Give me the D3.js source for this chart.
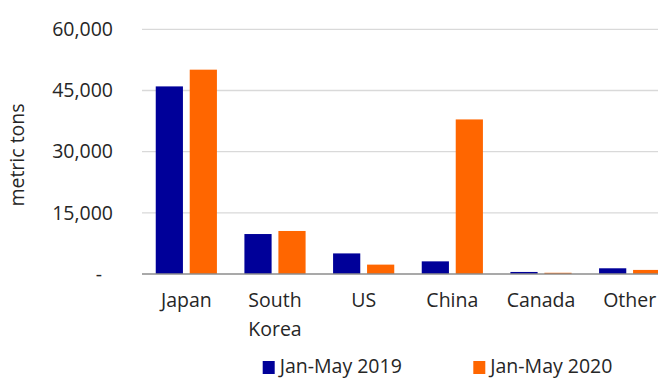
<!DOCTYPE html>
<html>
<head>
<meta charset="utf-8">
<script src="https://cdn.jsdelivr.net/npm/d3@7"></script>
<style>
  body { margin: 0; background: #fff; }
  svg { display: block; font-family: "Open Sans", sans-serif; }
</style>
</head>
<body>
<script>
const categories = ['Japan', 'South Korea', 'US', 'China', 'Canada', 'Other'];
const seriesNames = ['Jan-May 2019', 'Jan-May 2020'];
const values2019 = [46000, 9800, 5050, 3100, 500, 1400];
const values2020 = [50100, 10550, 2300, 37900, 300, 1000];
const yTicks = [0, 15000, 30000, 45000, 60000];
const colors = ['#000099', '#ff6600'];

const W = 658, H = 378;
const margin = { top: 29.3, left: 142, bottom: 104 };
const plotRight = 674;
const fs = 19.5;

const svg = d3.select('body').append('svg')
    .attr('width', W)
    .attr('height', H);

const data = categories.map((c, i) => ({ name: c, vals: [values2019[i], values2020[i]] }));

const x0 = d3.scaleBand().domain(categories).range([margin.left, plotRight]).paddingInner(0.31).paddingOuter(0.155);
const x1 = d3.scaleBand().domain([0, 1]).range([0, x0.bandwidth()]).paddingInner(0.2);
const y = d3.scaleLinear().domain([0, 60000]).range([H - margin.bottom, margin.top]);

// gridlines
svg.append('g')
    .selectAll('line')
    .data(yTicks.filter(d => d > 0))
    .join('line')
    .attr('x1', margin.left)
    .attr('x2', W)
    .attr('y1', d => y(d))
    .attr('y2', d => y(d))
    .attr('stroke', '#d9d9d9')
    .attr('stroke-width', 1.3);

// y axis labels
const yaxis = d3.axisLeft(y)
    .tickValues(yTicks)
    .tickSize(0)
    .tickPadding(0)
    .tickFormat(d => d === 0 ? '-' : d3.format(',')(d));

const gy = svg.append('g')
    .attr('transform', `translate(${margin.left - 29},0)`)
    .call(yaxis);
gy.select('.domain').remove();
gy.selectAll('text')
    .attr('font-size', fs)
    .attr('font-family', '"Open Sans", sans-serif')
    .attr('fill', '#262626')
    .attr('dx', d => d === 0 ? -11 : 0);

// bars
const groups = svg.append('g')
    .selectAll('g')
    .data(data)
    .join('g')
    .attr('transform', d => `translate(${x0(d.name)},0)`);

groups.selectAll('rect')
    .data(d => d.vals.map((v, i) => ({ v, i })))
    .join('rect')
    .attr('x', d => x1(d.i))
    .attr('width', x1.bandwidth())
    .attr('y', d => y(d.v))
    .attr('height', d => y(0) - y(d.v))
    .attr('fill', d => colors[d.i]);

// baseline
svg.append('line')
    .attr('x1', margin.left)
    .attr('x2', W)
    .attr('y1', y(0))
    .attr('y2', y(0))
    .attr('stroke', '#8c8c8c')
    .attr('stroke-width', 1.5);

// category labels
const labels = svg.append('g')
    .selectAll('text')
    .data(categories)
    .join('text')
    .attr('x', d => x0(d) + x0.bandwidth() / 2)
    .attr('y', 306.5)
    .attr('text-anchor', 'middle')
    .attr('font-size', fs)
    .attr('fill', '#262626');

labels.each(function(d) {
    const parts = d === 'South Korea' ? ['South', 'Korea'] : [d];
    const t = d3.select(this);
    parts.forEach((p, i) => {
        t.append('tspan')
            .attr('x', x0(d) + x0.bandwidth() / 2)
            .attr('dy', i === 0 ? 0 : 29)
            .text(p);
    });
});

// y axis title
svg.append('text')
    .attr('transform', 'translate(24,155) rotate(-90)')
    .attr('text-anchor', 'middle')
    .attr('font-size', fs)
    .attr('fill', '#262626')
    .text('metric tons');

// legend
const legendX = [262.7, 473.3];
const legend = svg.append('g')
    .selectAll('g')
    .data(seriesNames)
    .join('g')
    .attr('transform', (d, i) => `translate(${legendX[i]},0)`);

legend.append('rect')
    .attr('y', 361)
    .attr('width', 12)
    .attr('height', 13)
    .attr('fill', (d, i) => colors[i]);

legend.append('text')
    .attr('x', 17)
    .attr('y', 373)
    .attr('font-size', fs)
    .attr('fill', '#262626')
    .text(d => d);
</script>
</body>
</html>
